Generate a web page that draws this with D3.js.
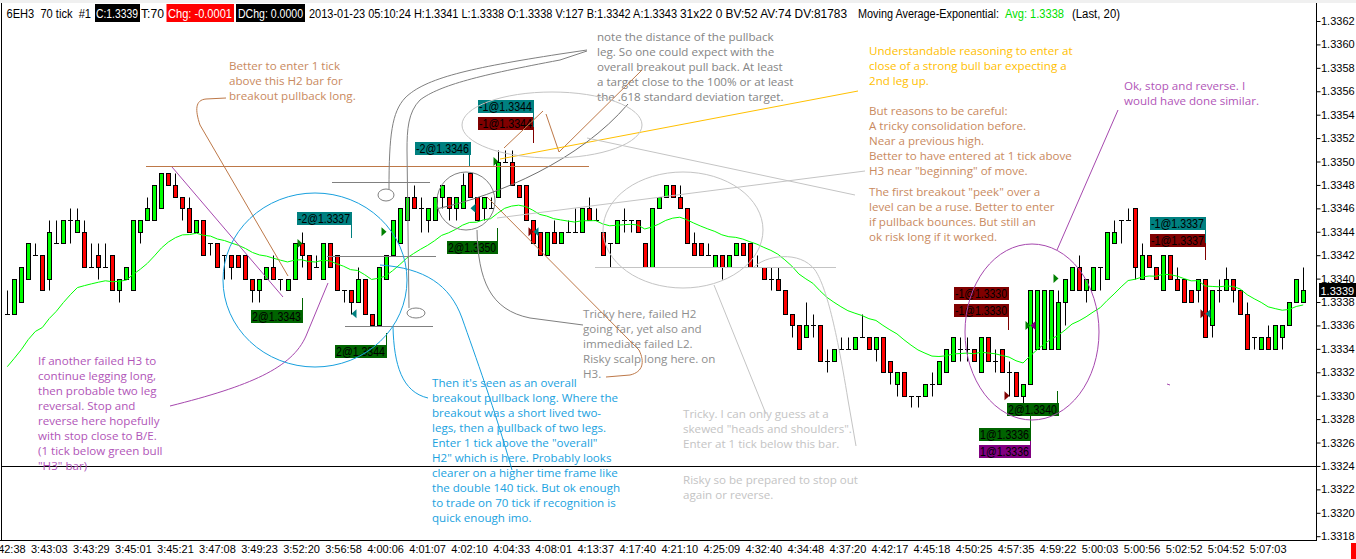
<!DOCTYPE html>
<html>
<head>
<meta charset="utf-8">
<script src="https://cdnjs.cloudflare.com/ajax/libs/d3/7.8.5/d3.min.js"></script>
<style>
body { margin: 0; background: #fff; }
svg { display: block; }
.note { font-family: "Open Sans", Lato, sans-serif; font-size: 11.6px; }
.tag { font-family: "Liberation Sans", Arial, sans-serif; font-size: 12px; }
.hdr { font-family: "Liberation Sans", Arial, sans-serif; font-size: 12px; white-space: pre; }
</style>
</head>
<body>
<svg class="chart" width="1356" height="559"></svg>
<script>
// 6EH3 70 tick bars (one entry per bar)
var opens = [1.3337,1.3337,1.3338,1.3340,1.3342,1.3342,1.3340,1.3343,1.3343,1.3345,
 1.3344,1.3344,1.3341,1.3342,1.3341,1.3342,1.3339,1.3340,1.3339,1.3344,
 1.3345,1.3345,1.3346,1.3349,1.3348,1.3347,1.3346,1.3344,1.3345,1.3343,
 1.3343,1.3342,1.3342,1.3342,1.3342,1.3340,1.3339,1.3340,1.3341,1.3340,
 1.3339,1.3340,1.3343,1.3342,1.3341,1.3340,1.3343,1.3342,1.3339,1.3339,
 1.3338,1.3340,1.3337,1.3336,1.3340,1.3342,1.3343,1.3345,1.3347,1.3346,
 1.3345,1.3345,1.3347,1.3347,1.3346,1.3346,1.3349,1.3347,1.3346,1.3346,
 1.3347,1.3350,1.3350,1.3348,1.3348,1.3345,1.3344,1.3342,1.3344,1.3343,
 1.3344,1.3344,1.3344,1.3346,1.3345,1.3344,1.3343,1.3343,1.3345,1.3345,
 1.3345,1.3343,1.3341,1.3346,1.3347,1.3348,1.3347,1.3346,1.3343,1.3343,
 1.3342,1.3341,1.3342,1.3341,1.3342,1.3343,1.3343,1.3341,1.3341,1.3340,
 1.3340,1.3339,1.3337,1.3336,1.3335,1.3336,1.3336,1.3333,1.3333,1.3334,
 1.3334,1.3334,1.3335,1.3335,1.3334,1.3335,1.3333,1.3331,1.3332,1.3330,
 1.3330,1.3330,1.3331,1.3331,1.3332,1.3333,1.3334,1.3334,1.3334,1.3332,
 1.3335,1.3333,1.3334,1.3332,1.3332,1.3330,1.3331,1.3334,1.3334,1.3334,
 1.3334,1.3338,1.3339,1.3341,1.3339,1.3339,1.3341,1.3340,1.3343,1.3345,
 1.3345,1.3346,1.3340,1.3342,1.3341,1.3339,1.3342,1.3340,1.3340,1.3339,
 1.3339,1.3340,1.3336,1.3339,1.3339,1.3340,1.3339,1.3337,1.3335,1.3334,
 1.3335,1.3334,1.3335,1.3336,1.3338,1.3338];

var highs = [1.3339,1.3340,1.3341,1.3343,1.3343,1.3342,1.3345,1.3345,1.3345,1.3346,
 1.3346,1.3345,1.3343,1.3343,1.3343,1.3342,1.3340,1.3341,1.3345,1.3345,
 1.3347,1.3348,1.3349,1.3349,1.3349,1.3347,1.3347,1.3345,1.3345,1.3343,
 1.3343,1.3342,1.3342,1.3342,1.3342,1.3340,1.3340,1.3341,1.3342,1.3340,
 1.3340,1.3343,1.3344,1.3342,1.3342,1.3343,1.3343,1.3342,1.3339,1.3339,
 1.3341,1.3340,1.3337,1.3341,1.3342,1.3345,1.3346,1.3347,1.3348,1.3347,
 1.3346,1.3347,1.3348,1.3347,1.3347,1.3349,1.3349,1.3347,1.3347,1.3347,
 1.3351,1.3351,1.3351,1.3348,1.3348,1.3345,1.3344,1.3344,1.3345,1.3344,
 1.3345,1.3346,1.3346,1.3347,1.3346,1.3344,1.3343,1.3345,1.3346,1.3345,
 1.3345,1.3343,1.3346,1.3347,1.3348,1.3348,1.3348,1.3346,1.3344,1.3343,
 1.3343,1.3342,1.3342,1.3342,1.3343,1.3343,1.3343,1.3342,1.3341,1.3341,
 1.3341,1.3339,1.3337,1.3336,1.3338,1.3337,1.3336,1.3334,1.3334,1.3335,
 1.3335,1.3335,1.3337,1.3335,1.3335,1.3335,1.3333,1.3332,1.3332,1.3330,
 1.3330,1.3331,1.3332,1.3333,1.3334,1.3335,1.3335,1.3335,1.3334,1.3335,
 1.3335,1.3334,1.3334,1.3333,1.3332,1.3331,1.3339,1.3339,1.3339,1.3339,
 1.3339,1.3340,1.3341,1.3342,1.3340,1.3341,1.3341,1.3344,1.3345,1.3345,
 1.3346,1.3346,1.3343,1.3342,1.3341,1.3342,1.3342,1.3341,1.3340,1.3339,
 1.3340,1.3340,1.3339,1.3340,1.3341,1.3340,1.3339,1.3338,1.3335,1.3335,
 1.3336,1.3336,1.3336,1.3338,1.3340,1.3341];

var lows = [1.3337,1.3337,1.3338,1.3340,1.3342,1.3339,1.3339,1.3343,1.3343,1.3343,
 1.3344,1.3341,1.3341,1.3340,1.3341,1.3339,1.3338,1.3340,1.3339,1.3343,
 1.3345,1.3345,1.3346,1.3348,1.3347,1.3345,1.3344,1.3344,1.3342,1.3342,
 1.3341,1.3340,1.3340,1.3341,1.3340,1.3338,1.3338,1.3340,1.3340,1.3339,
 1.3339,1.3340,1.3341,1.3340,1.3341,1.3340,1.3341,1.3339,1.3338,1.3337,
 1.3338,1.3337,1.3336,1.3336,1.3340,1.3342,1.3343,1.3345,1.3346,1.3344,
 1.3344,1.3345,1.3346,1.3345,1.3345,1.3346,1.3347,1.3345,1.3345,1.3346,
 1.3347,1.3350,1.3348,1.3347,1.3345,1.3343,1.3342,1.3342,1.3343,1.3343,
 1.3344,1.3344,1.3344,1.3345,1.3345,1.3342,1.3341,1.3343,1.3344,1.3344,
 1.3344,1.3341,1.3341,1.3346,1.3347,1.3347,1.3346,1.3343,1.3342,1.3342,
 1.3342,1.3341,1.3340,1.3341,1.3342,1.3342,1.3341,1.3341,1.3340,1.3339,
 1.3339,1.3337,1.3335,1.3334,1.3335,1.3335,1.3333,1.3332,1.3333,1.3334,
 1.3334,1.3334,1.3335,1.3334,1.3333,1.3332,1.3331,1.3330,1.3330,1.3329,
 1.3329,1.3330,1.3330,1.3331,1.3332,1.3333,1.3333,1.3333,1.3333,1.3332,
 1.3333,1.3332,1.3332,1.3330,1.3330,1.3329,1.3331,1.3334,1.3334,1.3334,
 1.3334,1.3336,1.3339,1.3339,1.3338,1.3339,1.3339,1.3340,1.3343,1.3343,
 1.3345,1.3340,1.3340,1.3341,1.3340,1.3339,1.3340,1.3339,1.3338,1.3338,
 1.3338,1.3335,1.3335,1.3338,1.3339,1.3338,1.3337,1.3334,1.3334,1.3334,
 1.3334,1.3334,1.3334,1.3336,1.3338,1.3338];

var closes = [1.3337,1.3340,1.3341,1.3343,1.3342,1.3339,1.3344,1.3343,1.3345,1.3345,
 1.3345,1.3341,1.3341,1.3341,1.3341,1.3339,1.3340,1.3341,1.3345,1.3345,
 1.3346,1.3348,1.3349,1.3348,1.3347,1.3346,1.3344,1.3345,1.3342,1.3343,
 1.3341,1.3342,1.3341,1.3341,1.3340,1.3339,1.3340,1.3341,1.3340,1.3340,
 1.3340,1.3343,1.3342,1.3340,1.3341,1.3343,1.3341,1.3339,1.3339,1.3338,
 1.3340,1.3337,1.3336,1.3341,1.3342,1.3345,1.3346,1.3347,1.3346,1.3346,
 1.3346,1.3347,1.3348,1.3346,1.3347,1.3348,1.3347,1.3345,1.3347,1.3346,
 1.3350,1.3350,1.3348,1.3347,1.3345,1.3343,1.3342,1.3344,1.3343,1.3344,
 1.3344,1.3344,1.3346,1.3345,1.3345,1.3342,1.3343,1.3345,1.3345,1.3345,
 1.3344,1.3341,1.3346,1.3347,1.3348,1.3347,1.3346,1.3343,1.3342,1.3342,
 1.3342,1.3342,1.3341,1.3342,1.3343,1.3342,1.3341,1.3341,1.3340,1.3340,
 1.3339,1.3337,1.3336,1.3334,1.3336,1.3336,1.3333,1.3333,1.3334,1.3334,
 1.3334,1.3335,1.3335,1.3334,1.3335,1.3332,1.3332,1.3332,1.3330,1.3330,
 1.3330,1.3331,1.3331,1.3333,1.3334,1.3335,1.3334,1.3334,1.3333,1.3335,
 1.3333,1.3333,1.3332,1.3332,1.3330,1.3331,1.3339,1.3339,1.3339,1.3339,
 1.3338,1.3340,1.3341,1.3339,1.3340,1.3341,1.3341,1.3344,1.3344,1.3345,
 1.3345,1.3341,1.3342,1.3341,1.3340,1.3342,1.3340,1.3339,1.3338,1.3338,
 1.3340,1.3335,1.3339,1.3339,1.3340,1.3339,1.3337,1.3334,1.3335,1.3335,
 1.3334,1.3336,1.3336,1.3338,1.3340,1.3339];

// time labels, one every 6 bars
var timeLabels = ["3:42:38","3:43:03","3:43:29","3:45:01","3:45:21","3:47:08","3:49:23",
 "3:52:20","3:56:58","4:00:06","4:01:07","4:02:10","4:04:33","4:08:01","4:13:37","4:17:40",
 "4:21:10","4:25:09","4:32:40","4:34:48","4:37:20","4:42:17","4:45:18","4:50:25","4:57:35",
 "4:59:22","5:00:03","5:00:56","5:02:52","5:04:52","5:07:03"];
var labelEvery = 6;

// price axis
var priceTicks = d3.range(0, 23).map(function(i) { return 1.3318 + i * 0.0002; });
var lastPrice = 1.3339;
var boxLine = 1.3324;

// EMA(20); value before the first visible bar
var emaPeriod = 20;
var emaSeed = 1.3332;

// fills (bar, price, side)
var execBars   = [42, 49, 54, 66, 70, 75, 75, 150, 143, 146, 146, 171, 171];
var execPrices = [1.3343, 1.3337, 1.3344, 1.3346, 1.3350, 1.3344, 1.3344, 1.3340, 1.3330, 1.3336, 1.3336, 1.3337, 1.3337];
var execSides  = ["buy", "sell", "buy", "sell", "buy", "exit", "sell", "buy", "exit", "buy", "cover", "exit", "sell"];

var n = closes.length;
var svg = d3.select(".chart");

var plotRight = 1316;
var plotBottom = 540;

var x = d3.scaleBand()
	.domain(d3.range(n))
	.range([3.8, 3.8 + 7.005 * n])
	.paddingInner(0).paddingOuter(0);
var cx = function(i) { return x(i) + x.bandwidth() / 2; };

var y = d3.scaleLinear()
	.domain([1.3318, 1.3362])
	.range([536.2, 21]);
var py = function(v) { return Math.round(y(v)) + 0.5; };

var ema = [];
var prev = emaSeed;
closes.forEach(function(c) {
	prev = prev + (2 / (emaPeriod + 1)) * (c - prev);
	ema.push(prev);
});

svg.append("rect").attr("width", 1356).attr("height", 559).attr("fill", "#fff");
svg.append("rect").attr("width", 1356).attr("height", 3).attr("fill", "#f0f0f0");

svg.append("clipPath").attr("id", "plot")
	.append("rect").attr("x", 1).attr("y", 3).attr("width", plotRight - 1).attr("height", plotBottom - 3);

var plot = svg.append("g").attr("clip-path", "url(#plot)");

// separator at 1.3324
plot.append("line")
	.attr("x1", 0).attr("x2", plotRight)
	.attr("y1", py(boxLine)).attr("y2", py(boxLine))
	.attr("stroke", "#000");

// candles
var bars = plot.append("g").selectAll("g").data(d3.range(n)).enter().append("g");

bars.append("line")
	.attr("x1", function(i) { return Math.round(cx(i)) + 0.5; })
	.attr("x2", function(i) { return Math.round(cx(i)) + 0.5; })
	.attr("y1", function(i) { return py(highs[i]); })
	.attr("y2", function(i) { return py(lows[i]); })
	.attr("stroke", "#000");

bars.filter(function(i) { return opens[i] != closes[i]; })
	.append("rect")
	.attr("x", function(i) { return Math.round(cx(i)) - 1.5; })
	.attr("y", function(i) { return py(Math.max(opens[i], closes[i])); })
	.attr("width", 4)
	.attr("height", function(i) { return py(Math.min(opens[i], closes[i])) - py(Math.max(opens[i], closes[i])); })
	.attr("fill", function(i) { return closes[i] > opens[i] ? "#00ff00" : "#ff0000"; })
	.attr("stroke", "#000");

bars.filter(function(i) { return opens[i] == closes[i]; })
	.append("line")
	.attr("x1", function(i) { return Math.round(cx(i)) - 2; })
	.attr("x2", function(i) { return Math.round(cx(i)) + 3; })
	.attr("y1", function(i) { return py(opens[i]); })
	.attr("y2", function(i) { return py(opens[i]); })
	.attr("stroke", "#000");

plot.append("path")
	.datum(d3.range(n))
	.attr("fill", "none")
	.attr("stroke", "#00ff00")
	.attr("d", d3.line().x(function(i) { return cx(i); }).y(function(i) { return y(ema[i]); }));

// ---- drawing objects ----
var teal = "#008080", dkred = "#800000", dkgreen = "#006400", purple = "#800080";
var brown = "#bd7848", yellow = "#ffc000", violet = "#a648ae", blue = "#18a0de";
var gray = "#808080", ltgray = "#c4c4c4";

var tags = [
	{t: "-2@1.3337", c: teal, x: 297, y: 212, w: 55},
	{t: "2@1.3343", c: dkgreen, x: 251, y: 310, w: 52},
	{t: "-2@1.3346", c: teal, x: 415, y: 142, w: 56},
	{t: "2@1.3350", c: dkgreen, x: 447, y: 241, w: 51},
	{t: "2@1.3344", c: dkgreen, x: 335, y: 345, w: 52},
	{t: "-1@1.3344", c: teal, x: 478, y: 100, w: 56},
	{t: "-1@1.3344", c: dkred, x: 478, y: 117, w: 56},
	{t: "-1@1.3330", c: dkred, x: 954, y: 287, w: 55},
	{t: "-1@1.3330", c: dkred, x: 954, y: 304, w: 55},
	{t: "2@1.3340", c: dkgreen, x: 1007, y: 403, w: 52},
	{t: "1@1.3336", c: dkgreen, x: 979, y: 428, w: 52},
	{t: "1@1.3336", c: purple, x: 979, y: 445, w: 52},
	{t: "-1@1.3337", c: teal, x: 1150, y: 217, w: 56},
	{t: "-1@1.3337", c: dkred, x: 1150, y: 234, w: 56}
];
var tagLinks = [
	[351.5, 224, 238, teal], [302.5, 298, 310, dkgreen], [469.5, 154, 167, teal],
	[497.5, 228, 241, dkgreen], [386.5, 333, 345, dkgreen], [533.5, 113, 127, teal],
	[533.5, 130, 143, dkred], [1008.5, 317, 330, dkred], [1057.5, 391, 403, dkgreen],
	[1030.5, 416, 428, dkgreen], [1030.5, 441, 445, purple], [1205.5, 230, 243, teal],
	[1205.5, 247, 260, dkred]
];

var tg = plot.append("g").selectAll("g").data(tags).enter().append("g");
tg.append("rect")
	.attr("x", function(d) { return d.x; }).attr("y", function(d) { return d.y; })
	.attr("width", function(d) { return d.w; }).attr("height", 13)
	.attr("fill", function(d) { return d.c; });
tg.append("text").attr("class", "tag")
	.attr("x", function(d) { return d.x + 1; }).attr("y", function(d) { return d.y + 11; })
	.attr("textLength", function(d) { return d.w - 3; })
	.attr("lengthAdjust", "spacingAndGlyphs")
	.attr("fill", "#000")
	.text(function(d) { return d.t; });

plot.append("g").selectAll("line").data(tagLinks).enter().append("line")
	.attr("x1", function(d) { return d[0]; }).attr("x2", function(d) { return d[0]; })
	.attr("y1", function(d) { return d[1]; }).attr("y2", function(d) { return d[2]; })
	.attr("stroke", function(d) { return d[3]; });

var notes = [
	{x: 229, y: 66, c: "#c98a60", lines: ["Better to enter 1 tick", "above this H2 bar for", "breakout pullback long."]},
	{x: 597, y: 37, c: "#858585", lines: ["note the distance of the pullback", "leg. So one could expect with the",
		"overall breakout pull back. At least", "a target close to the 100% or at least", "the .618 standard deviation target."]},
	{x: 869, y: 51, c: "#ffc000", lines: ["Understandable reasoning to enter at", "close of a strong bull bar expecting a", "2nd leg up."]},
	{x: 869, y: 111, c: "#c98a60", lines: ["But reasons to be careful:", "A tricky consolidation before.", "Near a previous high.",
		"Better to have entered at 1 tick above", "H3 near \"beginning\" of move."]},
	{x: 869, y: 192, c: "#c98a60", lines: ["The first breakout \"peek\" over a", "level can be a ruse. Better to enter",
		"if pullback bounces. But still an", "ok risk long if it worked."]},
	{x: 1124, y: 86, c: "#b155b8", lines: ["Ok, stop and reverse. I", "would have done similar."]},
	{x: 38, y: 361, c: "#b155b8", lines: ["If another failed H3 to", "continue legging long,", "then probable two leg",
		"reversal. Stop and", "reverse here hopefully", "with stop close to B/E.", "(1 tick below green bull", "\"H3\" bar)"]},
	{x: 432, y: 383, c: "#1aa2e0", lines: ["Then it's seen as an overall", "breakout pullback long. Where the",
		"breakout was a short lived two-", "legs, then a pullback of two legs.", "Enter 1 tick above the \"overall\"",
		"H2\" which is here. Probably looks", "clearer on a higher time frame like", "the double 140 tick. But ok enough",
		"to trade on 70 tick if recognition is", "quick enough imo."]},
	{x: 583, y: 314, c: "#8e8e8e", lines: ["Tricky here, failed H2", "going far, yet also and", "immediate failed L2.",
		"Risky scalp long here. on", "H3."]},
	{x: 683, y: 414, c: "#c4c4c4", lines: ["Tricky. I can only guess at a", "skewed \"heads and shoulders\".", "Enter at 1 tick below this bar."]},
	{x: 683, y: 480, c: "#c4c4c4", lines: ["Risky so be prepared to stop out", "again or reverse."]}
];

notes.forEach(function(b) {
	plot.append("g").selectAll("text").data(b.lines).enter().append("text")
		.attr("class", "note")
		.attr("x", b.x)
		.attr("y", function(t, k) { return b.y + k * 15; })
		.attr("dy", "0.36em")
		.attr("fill", b.c)
		.text(function(t) { return t; });
});

var strokes = [
	{d: "M146,166.5L589,166.5", c: brown},
	{d: "M226,98L206,99C195,100 195,110 200,125L288,276", c: brown},
	{d: "M504,148L543,111M546,114L559,152L642,70", c: brown},
	{d: "M487,197L639,350C645,362 643,372 630,375L606,377", c: brown},
	{d: "M500,159L858,91", c: yellow},
	{d: "M172,167L283,297", c: violet},
	{d: "M170,406C250,386 292,368 306,336L328,283", c: violet},
	{d: "M1057,250L1118,110", c: violet},
	{d: "M1167,384L1170,385", c: violet},
	{d: "M380,265C425,268 450,285 462,318C475,355 495,410 512,470", c: blue},
	{d: "M393,327C394,365 402,392 428,398", c: blue},
	{d: "M587,50L560,54C470,68 425,78 405,98C392,112 389,135 389,189", c: gray},
	{d: "M587,51L560,60C480,75 440,85 420,100C408,112 407,130 407,150L409,308", c: gray},
	{d: "M332,182.5L430,182.5", c: gray},
	{d: "M327,256.5L436,256.5", c: gray},
	{d: "M345,326.5L433,326.5", c: gray},
	{d: "M436,209C500,195 580,160 628,104", c: "#707070"},
	{d: "M477,230C478,280 490,310 530,318L583,325", c: gray},
	{d: "M587,138L855,195", c: ltgray},
	{d: "M497,218L865,171", c: ltgray},
	{d: "M595,267.5L836,267.5", c: ltgray},
	{d: "M753,268C765,255 800,250 815,270C825,285 835,320 848,400L856,446", c: ltgray},
	{d: "M714,285L766,414", c: ltgray}
];
var rings = [
	{cx: 315, cy: 280, rx: 92, ry: 87, c: blue},
	{cx: 386, cy: 195, rx: 8, ry: 6, c: gray},
	{cx: 416, cy: 313, rx: 9, ry: 5, c: gray},
	{cx: 466, cy: 201, rx: 29, ry: 29, c: gray},
	{cx: 552, cy: 125, rx: 90, ry: 33, c: ltgray},
	{cx: 683, cy: 230, rx: 80, ry: 58, c: ltgray},
	{cx: 1032, cy: 332, rx: 67, ry: 88, c: violet}
];

plot.append("g").selectAll("path").data(strokes).enter().append("path")
	.attr("d", function(d) { return d.d; })
	.attr("fill", "none")
	.attr("stroke", function(d) { return d.c; });

plot.append("g").selectAll("ellipse").data(rings).enter().append("ellipse")
	.attr("cx", function(d) { return d.cx; }).attr("cy", function(d) { return d.cy; })
	.attr("rx", function(d) { return d.rx; }).attr("ry", function(d) { return d.ry; })
	.attr("fill", "none")
	.attr("stroke", function(d) { return d.c; });

// fill markers
var sideColor = {buy: "#008000", sell: teal, exit: dkred, cover: purple};
plot.append("g").selectAll("path").data(d3.range(execBars.length)).enter().append("path")
	.attr("d", function(k) {
		var tx = Math.round(cx(execBars[k])) + 0.5, ty = y(execPrices[k]);
		var dir = (execSides[k] == "buy" || execSides[k] == "exit") ? -1 : 1;
		return "M" + tx + "," + ty + "L" + (tx + dir * 5) + "," + (ty - 4.5) + "L" + (tx + dir * 5) + "," + (ty + 4.5) + "Z";
	})
	.attr("fill", function(k) { return sideColor[execSides[k]]; });

// ---- axes ----
var axisFont = "Liberation Sans, Arial, sans-serif";
var yAxis = d3.axisRight(y).tickValues(priceTicks).tickFormat(d3.format(".4f")).tickSize(4).tickSizeOuter(0);
svg.append("clipPath").attr("id", "axisclip")
	.append("rect").attr("x", plotRight - 2).attr("y", 3).attr("width", 60).attr("height", plotBottom - 3);
svg.append("g")
	.attr("clip-path", "url(#axisclip)")
	.append("g")
	.attr("transform", "translate(" + (plotRight + 0.5) + ",0)")
	.call(yAxis)
	.call(function(g) { g.select(".domain").remove(); })
	.call(function(g) {
		g.selectAll("text").attr("x", 4.5).attr("fill", "#000")
			.style("font-family", axisFont).style("font-size", "11px");
		g.selectAll("line").attr("stroke", "#000");
	});

svg.append("line")
	.attr("x1", plotRight + 0.5).attr("x2", plotRight + 0.5).attr("y1", 3).attr("y2", plotBottom + 0.5)
	.attr("stroke", "#000");
svg.append("line")
	.attr("x1", 0).attr("x2", plotRight + 1).attr("y1", plotBottom + 0.5).attr("y2", plotBottom + 0.5)
	.attr("stroke", "#000");
svg.append("line")
	.attr("x1", 1.5).attr("x2", 1.5).attr("y1", 3).attr("y2", plotBottom + 0.5)
	.attr("stroke", "#000");

// last price box
svg.append("rect").attr("x", 1319).attr("y", py(lastPrice) - 7.5).attr("width", 37).attr("height", 14).attr("fill", "#000");
svg.append("text")
	.attr("x", 1320.5).attr("y", py(lastPrice) + 4)
	.attr("fill", "#fff")
	.style("font-family", axisFont).style("font-size", "11px")
	.text(d3.format(".4f")(lastPrice));

var xAxis = d3.axisBottom(x)
	.tickValues(d3.range(0, n, labelEvery))
	.tickFormat(function(i) { return timeLabels[i / labelEvery]; })
	.tickSize(0).tickPadding(0);
svg.append("g")
	.attr("transform", "translate(0," + (plotBottom + 5) + ")")
	.call(xAxis)
	.call(function(g) { g.select(".domain").remove(); })
	.call(function(g) {
		g.selectAll("text").attr("fill", "#000")
			.style("font-family", axisFont).style("font-size", "11px");
	});

svg.append("rect").attr("x", 1351).attr("y", 543).attr("width", 5).attr("height", 16).attr("fill", "#ff0000");

// ---- header line ----
var header = [
	{t: "6EH3  70 tick  #1", x: 6.5, w: 84.5},
	{t: "C:1.3339", x: 96, w: 42, box: "#000", bx: 95, bw: 45},
	{t: "T:70", x: 141, w: 23},
	{t: "Chg: -0.0001", x: 168, w: 64, box: "#ff0000", bx: 166.5, bw: 67.5},
	{t: "DChg: 0.0000", x: 238, w: 65, box: "#000", bx: 236, bw: 69},
	{t: "2013-01-23 05:10:24 H:1.3341 L:1.3338 O:1.3338 V:127 B:1.3342 A:1.3343", x: 309, w: 368},
	{t: "31x22 0 BV:52 AV:74 DV:81783", x: 680, w: 167},
	{t: "Moving Average-Exponential:", x: 858, w: 141},
	{t: "Avg: 1.3338", x: 1005, w: 59, fill: "#00e000"},
	{t: "(Last, 20)", x: 1072, w: 48}
];
var hg = svg.append("g");
header.forEach(function(h) {
	if (h.box) {
		hg.append("rect").attr("x", h.bx).attr("y", 4).attr("width", h.bw).attr("height", 18).attr("fill", h.box);
	}
	hg.append("text").attr("class", "hdr")
		.attr("x", h.x).attr("y", 17.5)
		.attr("textLength", h.w).attr("lengthAdjust", "spacingAndGlyphs")
		.attr("fill", h.fill || (h.box ? "#fff" : "#000"))
		.text(h.t);
});
</script>
</body>
</html>
